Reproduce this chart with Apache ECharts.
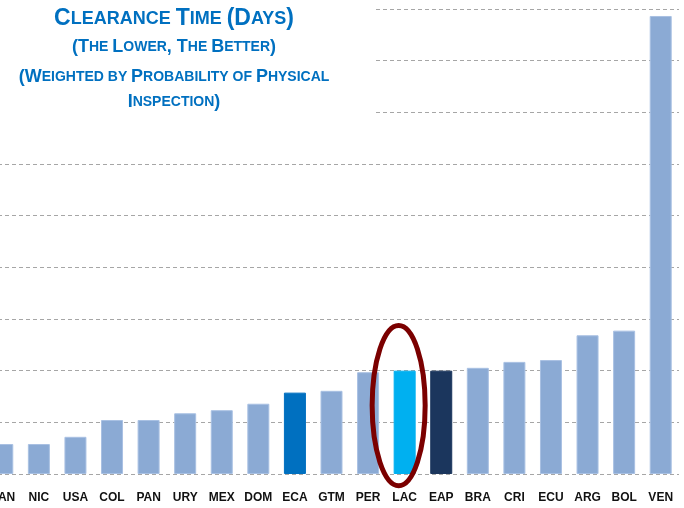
<!DOCTYPE html>
<html lang="en">
<head>
    <title>clearance time</title>
    <meta charset="utf-8">
</head>
<body style="margin:0">
<script type="text/javascript" src="https://cdn.jsdelivr.net/npm/echarts@6/dist/echarts.min.js"></script>
<div id="main" style="width: 684px;height: 508px"></div>
<script type="text/javascript">
    // data (days)
    var countries = ['CAN', 'NIC', 'USA', 'COL', 'PAN', 'URY', 'MEX', 'DOM', 'ECA', 'GTM',
        'PER', 'LAC', 'EAP', 'BRA', 'CRI', 'ECU', 'ARG', 'BOL', 'VEN'];
    var days = [1.16, 1.16, 1.44, 2.09, 2.09, 2.35, 2.47, 2.72, 3.15, 3.22,
        3.94, 4.0, 4.0, 4.11, 4.34, 4.41, 5.37, 5.55, 17.73];
    var titleLines = ['Clearance Time (Days)', '(The Lower, The Better)',
        '(Weighted by Probability of Physical', 'Inspection)'];

    var highlight = {ECA: '#0070C0', LAC: '#00B0F0', EAP: '#1B365D'};
    var blue = '#8BAAD4';
    var titleColor = '#0070C0';
    var titleFont = '"Liberation Sans Narrow", "Arial Narrow", "Liberation Sans", sans-serif';

    // small caps: lower case letters become smaller upper case letters
    function smallCaps(str) {
        var out = '', cur = null, buf = '';
        for (var i = 0; i < str.length; i++) {
            var ch = str[i];
            var st = (ch !== ch.toUpperCase()) ? 's' : 'b';
            if (ch === ' ') st = cur || 'b';
            if (st !== cur && buf) {
                out += '{' + cur + '|' + buf + '}';
                buf = '';
            }
            cur = st;
            buf += ch.toUpperCase();
        }
        if (buf) out += '{' + cur + '|' + buf + '}';
        return out;
    }

    var titleTops = [19, 47, 77, 102];
    var titles = titleLines.map(function (t, i) {
        var big = i === 0 ? 23 : 18;
        var small = i === 0 ? 18 : 14;
        return {
            text: smallCaps(t),
            left: 174,
            top: titleTops[i] - 12,
            textAlign: 'center',
            padding: 0,
            z: 100,
            textStyle: {
                rich: {
                    b: {fontFamily: titleFont, fontWeight: 'bold', fontSize: big, color: titleColor, lineHeight: 24},
                    s: {fontFamily: titleFont, fontWeight: 'bold', fontSize: small, color: titleColor, lineHeight: 24}
                }
            }
        };
    });

    var data = [];
    for (var i = 0; i < countries.length; i++) {
        var c = highlight[countries[i]] || blue;
        data.push({
            value: days[i],
            itemStyle: {
                color: c,
                borderColor: highlight[countries[i]] ? c : '#A9C1E3',
                borderWidth: 1
            }
        });
    }

    var dom = document.getElementById('main');
    var myChart = echarts.init(dom);
    var option = {
        animation: false,
        title: titles,
        grid: {
            left: -16,
            right: 5,
            top: 9,
            bottom: 34,
            containLabel: false,
            outerBoundsMode: 'none'
        },
        xAxis: {
            type: 'category',
            data: countries,
            axisLine: {show: false},
            axisTick: {show: false},
            axisLabel: {
                margin: 18,
                color: '#111',
                fontSize: 12,
                fontWeight: 'bold',
                fontFamily: '"Liberation Sans", Arial, sans-serif',
                interval: 0
            }
        },
        yAxis: {
            type: 'value',
            min: 0,
            max: 18,
            interval: 2,
            axisLine: {show: false},
            axisTick: {show: false},
            axisLabel: {show: false},
            splitLine: {
                lineStyle: {color: '#A6A6A6', width: 1, type: [4, 3]}
            }
        },
        series: [{
            type: 'bar',
            barWidth: 22,
            data: data
        }]
    };
    myChart.setOption(option);

    // white box behind the title and the red ring around LAC (drawn a bit left of the bar)
    var cx = myChart.convertToPixel({xAxisIndex: 0}, 'LAC') - 6;
    var yTop = myChart.convertToPixel({yAxisIndex: 0}, 5.75);
    var yBottom = myChart.convertToPixel({yAxisIndex: 0}, -0.45);
    myChart.setOption({
        graphic: [{
            type: 'rect',
            z: 50,
            shape: {x: 0, y: 0, width: 376, height: 136},
            style: {fill: '#fff'}
        }, {
            type: 'ellipse',
            z: 60,
            shape: {
                cx: cx,
                cy: (yTop + yBottom) / 2,
                rx: 26.5,
                ry: (yBottom - yTop) / 2
            },
            style: {fill: 'none', stroke: '#7B0000', lineWidth: 5}
        }]
    });
</script>
</body>
</html>
